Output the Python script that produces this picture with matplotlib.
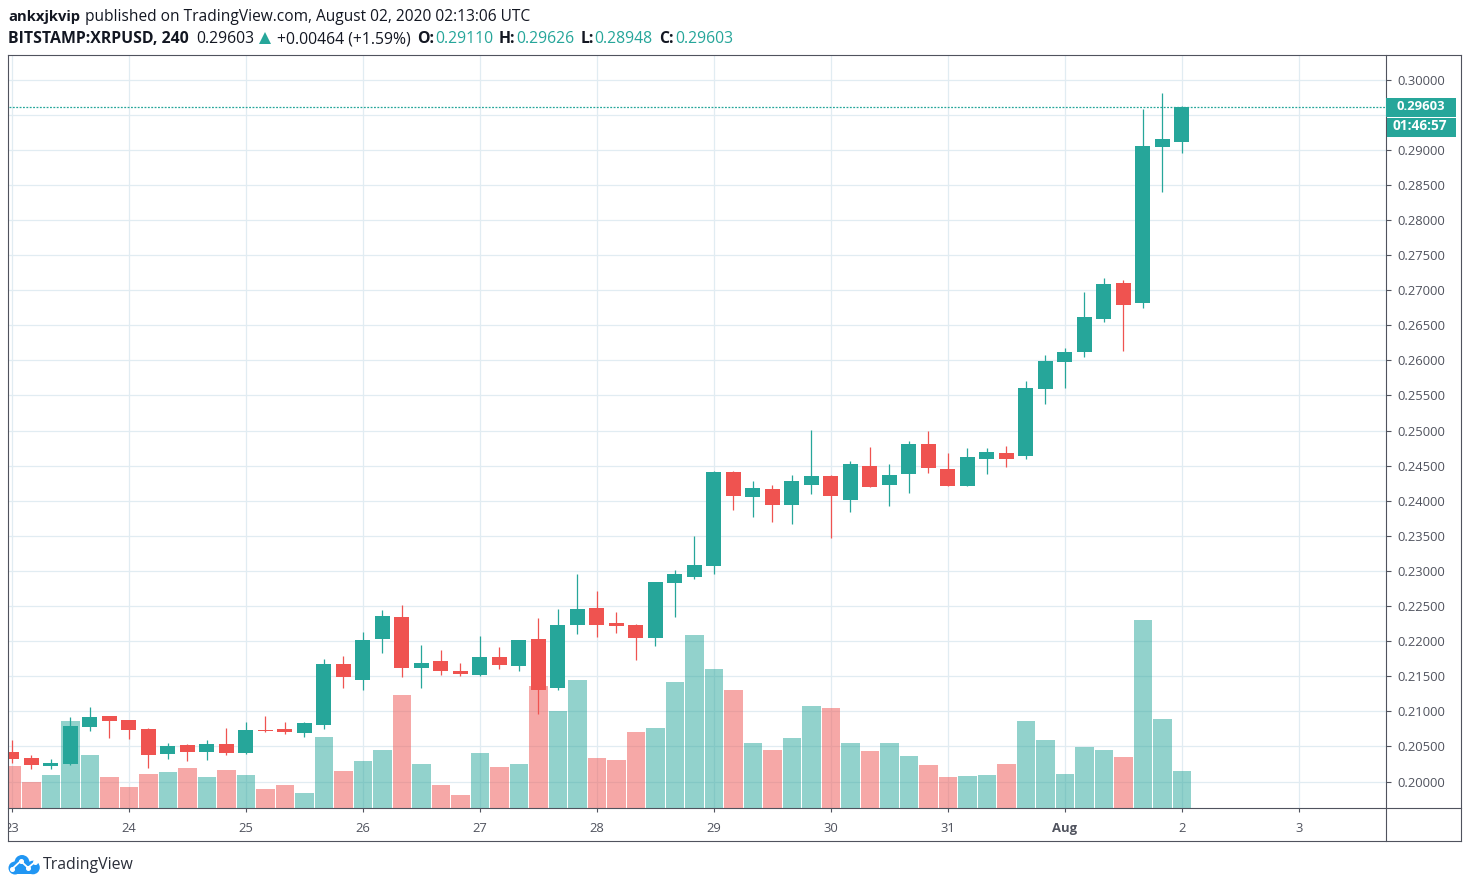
# -*- coding: utf-8 -*-
"""
plot.py
BITSTAMP:XRPUSD 4h candles with volume, TradingView snapshot look
"""

import matplotlib
matplotlib.use("Agg")
import matplotlib.pyplot as plt
from matplotlib.lines import Line2D
from matplotlib.patches import Circle, Polygon, Rectangle
from matplotlib.transforms import Bbox

plt.rcParams["font.family"] = ["Open Sans", "DejaVu Sans"]

W, H = 1470, 888

# ---------------------------------------------------------
# Data
# ---------------------------------------------------------
OPEN = [.20416, .20331, .20217, .20245, .20772, .20929, .20872, .20744, .20388, .20516,
        .20416, .20530, .20402, .20730, .20744, .20687, .20801, .21670, .21443, .22026,
        .22340, .21614, .21713, .21571, .21514, .21770, .21642, .22026, .21329, .22225,
        .22468, .22254, .22225, .22041, .22824, .22909, .23066, .24405, .24049, .24163,
        .23935, .24220, .24348, .24007, .24491, .24220, .24377, .24804, .24448, .24206,
        .24590, .24676, .24633, .25587, .25972, .26114, .26585, .27098, .26813, .29036,
        .29110]
HIGH = [.20587, .20374, .20317, .20915, .21058, .20929, .20872, .20758, .20544, .20530,
        .20587, .20758, .20844, .20929, .20844, .20844, .21742, .21784, .22126, .22439,
        .22511, .21941, .21870, .21685, .22069, .21913, .22012, .22325, .22454, .22952,
        .22710, .22411, .22240, .22838, .23009, .23493, .24419, .24419, .24276, .24220,
        .24362, .25004, .24362, .24562, .24761, .24519, .24847, .24989, .24676, .24747,
        .24747, .24776, .25702, .26071, .26171, .26969, .27169, .27140, .29577, .29804,
        .29626]
LOW = [.20260, .20174, .20174, .20231, .20715, .20616, .20601, .20188, .20317, .20288,
       .20302, .20374, .20388, .20701, .20673, .20630, .20744, .21329, .21300, .21827,
       .21485, .21329, .21514, .21500, .21500, .21599, .21571, .20958, .21300, .22097,
       .22055, .22112, .21728, .21927, .22340, .22881, .22952, .23864, .23764, .23693,
       .23664, .24092, .23465, .23836, .24192, .23921, .24106, .24391, .24206, .24206,
       .24377, .24477, .24590, .25374, .25602, .26043, .26542, .26129, .26742, .28395,
       .28948]
CLOSE = [.20317, .20231, .20260, .20787, .20915, .20858, .20730, .20374, .20502, .20416,
         .20530, .20402, .20730, .20715, .20701, .20829, .21670, .21485, .22012, .22354,
         .21614, .21685, .21571, .21528, .21770, .21656, .22012, .21300, .22225, .22454,
         .22225, .22211, .22041, .22838, .22952, .23080, .24405, .24063, .24177, .23935,
         .24276, .24348, .24063, .24519, .24192, .24362, .24804, .24462, .24206, .24619,
         .24690, .24590, .25602, .25986, .26114, .26613, .27083, .26784, .29050, .29150,
         .29603]
# arbitrary units, the chart shows no volume scale
VOLUME = [42.3, 26.3, 33.3, 87.3, 53.3, 31.3, 21.3, 34.3, 36.3, 40.3,
          31.3, 38.3, 33.3, 19.3, 23.3, 15.3, 71.3, 37.3, 47.3, 58.3,
          113.3, 44.3, 23.3, 13.3, 55.3, 41.3, 44.3, 122.3, 97.3, 128.3,
          50.3, 48.3, 76.3, 80.3, 126.3, 173.3, 139.3, 118.3, 65.3, 58.3,
          70.3, 102.3, 100.3, 65.3, 57.3, 65.3, 52.3, 43.3, 31.3, 32.3,
          33.3, 44.3, 87.3, 68.3, 34.3, 61.3, 58.3, 51.3, 188.3, 89.3,
          37.3]
DAY_LABELS = ["23", "24", "25", "26", "27", "28", "29", "30", "31", "Aug", "2", "3"]
PRICE_TICKS = [.200, .205, .210, .215, .220, .225, .230, .235, .240, .245, .250,
               .255, .260, .265, .270, .275, .280, .285, .290, .295, .300]
HIDDEN_TICK = .295      # sits behind the price boxes
LAST_PRICE = 0.29603

GREEN = "#26a69a"
RED = "#ef5350"
LINE = "#50535e"
GRID = "#e1ecf2"
TEXT = "#131722"

# pixel geometry of the pane
LEFT, RIGHT, TOP, BOTTOM = 8.6, 1386, 55.6, 808.3
FRAME_LEFT, FRAME_TOP = 8.0, 55.0
OUT_RIGHT, OUT_BOTTOM = 1461, 841
PRICE_30 = 79.6         # pixel row of 0.30000
PX_PER_PRICE = 7020.0
BAR_PX = 19.5
BAR0_X = 11.9           # pixel column of first candle
HEAD_SIZE = 11.3


def fx(x):
    return x / W


def fy(y):
    return 1 - y / H


def put_text(x, y, s, color=TEXT, size=HEAD_SIZE, weight="normal", ha="left"):
    return fig.text(fx(x), fy(y), s, color=color, fontsize=size, fontweight=weight,
                    ha=ha, va="center")


def put_line(x0, y0, x1, y1, color=LINE):
    fig.add_artist(Line2D([fx(x0), fx(x1)], [fy(y0), fy(y1)], color=color, lw=0.8))


# ---------------------------------------------------------
# Pane
# ---------------------------------------------------------
fig = plt.figure(figsize=(W / 100, H / 100), dpi=100)
ax = fig.add_axes([fx(LEFT), fy(BOTTOM), (RIGHT - LEFT) / W, (BOTTOM - TOP) / H])

y_min = 0.30 - (BOTTOM - PRICE_30) / PX_PER_PRICE
y_max = 0.30 + (PRICE_30 - TOP) / PX_PER_PRICE
ax.set_xlim((LEFT - BAR0_X) / BAR_PX, (RIGHT - BAR0_X) / BAR_PX)
ax.set_ylim(y_min, y_max)

for s in ax.spines.values():
    s.set_visible(False)

day_pos = [i * 6 for i in range(len(DAY_LABELS))]
ax.set_xticks(day_pos)
ax.set_xticklabels(DAY_LABELS)
ax.yaxis.tick_right()
ax.set_yticks(PRICE_TICKS)
ax.set_yticklabels(["" if p == HIDDEN_TICK else "%.5f" % p for p in PRICE_TICKS])
ax.tick_params(axis="x", length=3, width=0.8, color=LINE, labelcolor=LINE, labelsize=9.4, pad=7)
ax.tick_params(axis="y", length=3.6, width=0.8, color=LINE, labelcolor=LINE, labelsize=9.4, pad=4.3)
ax.grid(True, color=GRID, lw=0.9)
ax.set_axisbelow(True)

# the "23" is cut off by the pane edge, "Aug" is bold
for lab in ax.get_xticklabels():
    lab.set_clip_box(Bbox.from_extents(LEFT, 0, W, H))
    lab.set_clip_on(True)
    if lab.get_text() == "Aug":
        lab.set_fontweight("bold")

# ---------------------------------------------------------
# Volume and candles
# ---------------------------------------------------------
xs = list(range(len(OPEN)))
colors = [GREEN if c >= o else RED for o, c in zip(OPEN, CLOSE)]

vol_heights = [v / PX_PER_PRICE for v in VOLUME]
ax.bar(xs, vol_heights, bottom=y_min, width=0.95, color=colors, alpha=0.5, lw=0, zorder=2)

ax.vlines(xs, LOW, HIGH, colors=colors, lw=0.9, zorder=3)
body_low = [min(o, c) for o, c in zip(OPEN, CLOSE)]
body_h = [abs(c - o) for o, c in zip(OPEN, CLOSE)]
ax.bar(xs, body_h, bottom=body_low, width=0.77, color=colors, lw=0, zorder=4)

ax.axhline(LAST_PRICE, color=GREEN, lw=0.9, ls=(0, (1.5, 1.2)), zorder=5)

# ---------------------------------------------------------
# Frame and price labels
# ---------------------------------------------------------
put_line(FRAME_LEFT, FRAME_TOP, OUT_RIGHT, FRAME_TOP)
put_line(FRAME_LEFT, OUT_BOTTOM, OUT_RIGHT, OUT_BOTTOM)
put_line(FRAME_LEFT, FRAME_TOP, FRAME_LEFT, OUT_BOTTOM)
put_line(OUT_RIGHT, FRAME_TOP, OUT_RIGHT, OUT_BOTTOM)
put_line(RIGHT, FRAME_TOP, RIGHT, OUT_BOTTOM)
put_line(FRAME_LEFT, BOTTOM, OUT_RIGHT, BOTTOM)

fig.add_artist(Rectangle((fx(1386), fy(117)), 70 / W, 19 / H, color=GREEN, lw=0, zorder=6))
fig.add_artist(Rectangle((fx(1387), fy(137)), 69 / W, 19 / H, color=GREEN, lw=0, zorder=6))
put_line(1386, 107, 1391, 107, color="white")
for t in [put_text(1421, 106.5, "%.5f" % LAST_PRICE, "white", 9.4, "bold", "center"),
          put_text(1419.5, 126.5, "01:46:57", "white", 9.8, "bold", "center")]:
    t.set_zorder(7)

# ---------------------------------------------------------
# Header
# ---------------------------------------------------------
put_text(8, 17, "ankxjkvip", size=10.6, weight="bold")
put_text(85, 17, "published on TradingView.com, August 02, 2020 02:13:06 UTC", size=11.2)

put_text(8, 39, "BITSTAMP:XRPUSD, 240", size=11.4, weight="bold")
put_text(196, 39, "0.29603")
fig.add_artist(Polygon([(fx(259), fy(44)), (fx(271), fy(44)), (fx(265), fy(32))], color=GREEN, lw=0))
put_text(277, 39, "+0.00464 (+1.59%)")
for x_lab, lab, x_val, val in [(417, "O:", 435, OPEN[-1]), (499, "H:", 516, HIGH[-1]),
                               (581, "L:", 594, LOW[-1]), (659, "C:", 675, CLOSE[-1])]:
    put_text(x_lab, 39, lab, weight="bold")
    put_text(x_val, 39, "%.5f" % val, GREEN)

# ---------------------------------------------------------
# Logo
# ---------------------------------------------------------
LOGO = "#2196f3"
for cx, cy, r in [(15, 868, 6.5), (22, 862.5, 7.5), (33, 867.5, 6.8)]:
    fig.add_artist(Circle((cx, H - cy), r, color=LOGO, lw=0, transform=None))
fig.add_artist(Rectangle((fx(13), fy(874.3)), 20 / W, 8 / H, color=LOGO, lw=0))
fig.add_artist(Line2D([fx(12), fx(20.7), fx(28), fx(35)], [fy(869), fy(861), fy(867.7), fy(862)],
                      color="white", lw=1.3, marker="o", ms=2.6))
put_text(43, 865, "TradingView", "#2a2e39", 11.4)

fig.savefig("out.png", dpi=100)
